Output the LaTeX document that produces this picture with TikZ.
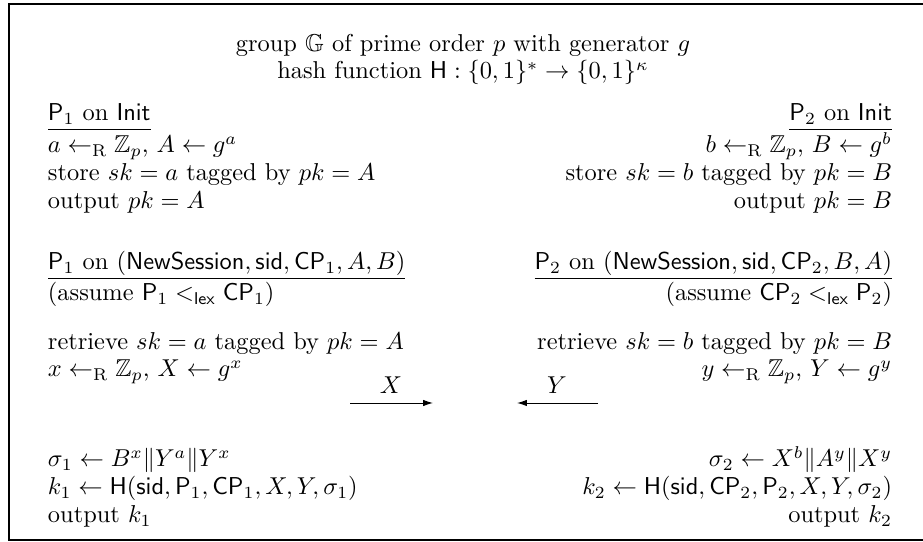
\documentclass[tikz,border=0pt]{standalone}
\usepackage{amsmath,amssymb}
\usetikzlibrary{arrows.meta}
\newcommand{\sampR}{\leftarrow_{\mathrm{R}}}
\begin{document}
\begin{tikzpicture}[x=0.4098pt,y=-0.4098pt,
  lt/.style={anchor=base west,inner sep=0pt,outer sep=0pt},
  rt/.style={anchor=base east,inner sep=0pt,outer sep=0pt},
  ct/.style={anchor=base,inner sep=0pt,outer sep=0pt},
  uline/.style={line width=0.4pt},
  msg/.style={line width=0.4pt,-{Latex[length=4pt,width=2.6pt]}}]
\useasboundingbox (0,0) rectangle (923,542);
\clip (0,0) rectangle (923,542);
\draw[line width=0.5pt] (9,4) rectangle (940,540);
% header
\node[ct] (h1) at (463,52) {group $\mathbb{G}$ of prime order $p$ with generator $g$};
\node[ct] (h2) at (463,79) {hash function $\mathsf{H}:\{0,1\}^*\to\{0,1\}^\kappa$};
% left column
\node[lt] (l1) at (48,121) {$\mathsf{P}_1$ on $\mathsf{Init}$};
\draw[uline] ([yshift=-3.4pt]l1.base west) -- ([yshift=-3.4pt]l1.base east);
\node[lt] (l2) at (48,153) {$a\sampR\mathbb{Z}_p$, $A\leftarrow g^a$};
\node[lt] (l3) at (48,181) {store $sk=a$ tagged by $pk=A$};
\node[lt] (l4) at (48,209) {output $pk=A$};
\node[lt] (l5) at (48,270) {$\mathsf{P}_1$ on $(\mathsf{NewSession},\mathsf{sid},\mathsf{CP}_1,A,B)$};
\draw[uline] ([yshift=-3.4pt]l5.base west) -- ([yshift=-3.4pt]l5.base east);
\node[lt] (l6) at (48,301) {(assume $\mathsf{P}_1<_{\mathsf{lex}}\mathsf{CP}_1$)};
\node[lt] (l7) at (48,350) {retrieve $sk=a$ tagged by $pk=A$};
\node[lt] (l8) at (48,377) {$x\sampR\mathbb{Z}_p$, $X\leftarrow g^x$};
\node[lt] (l9) at (48,467) {$\sigma_1\leftarrow B^x\|Y^a\|Y^x$};
\node[lt] (l10) at (48,495) {$k_1\leftarrow\mathsf{H}(\mathsf{sid},\mathsf{P}_1,\mathsf{CP}_1,X,Y,\sigma_1)$};
\node[lt] (l11) at (48,523) {output $k_1$};
% right column
\node[rt] (r1) at (892,121) {$\mathsf{P}_2$ on $\mathsf{Init}$};
\draw[uline] ([yshift=-3.4pt]r1.base west) -- ([yshift=-3.4pt]r1.base east);
\node[rt] (r2) at (892,153) {$b\sampR\mathbb{Z}_p$, $B\leftarrow g^b$};
\node[rt] (r3) at (892,181) {store $sk=b$ tagged by $pk=B$};
\node[rt] (r4) at (892,209) {output $pk=B$};
\node[rt] (r5) at (892,270) {$\mathsf{P}_2$ on $(\mathsf{NewSession},\mathsf{sid},\mathsf{CP}_2,B,A)$};
\draw[uline] ([yshift=-3.4pt]r5.base west) -- ([yshift=-3.4pt]r5.base east);
\node[rt] (r6) at (892,301) {(assume $\mathsf{CP}_2<_{\mathsf{lex}}\mathsf{P}_2$)};
\node[rt] (r7) at (892,350) {retrieve $sk=b$ tagged by $pk=B$};
\node[rt] (r8) at (892,377) {$y\sampR\mathbb{Z}_p$, $Y\leftarrow g^y$};
\node[rt] (r9) at (892,467) {$\sigma_2\leftarrow X^b\|A^y\|X^y$};
\node[rt] (r10) at (892,495) {$k_2\leftarrow\mathsf{H}(\mathsf{sid},\mathsf{CP}_2,\mathsf{P}_2,X,Y,\sigma_2)$};
\node[rt] (r11) at (892,523) {output $k_2$};
% messages
\coordinate (xs) at (350,403);
\coordinate (xe) at (433,403);
\coordinate (ys) at (598,403);
\coordinate (ye) at (517,403);
\draw[msg] (xs) -- (xe);
\draw[msg] (ys) -- (ye);
\node[ct] (xl) at (391,394) {$X$};
\node[ct] (yl) at (557,394) {$Y$};
\end{tikzpicture}
\end{document}
